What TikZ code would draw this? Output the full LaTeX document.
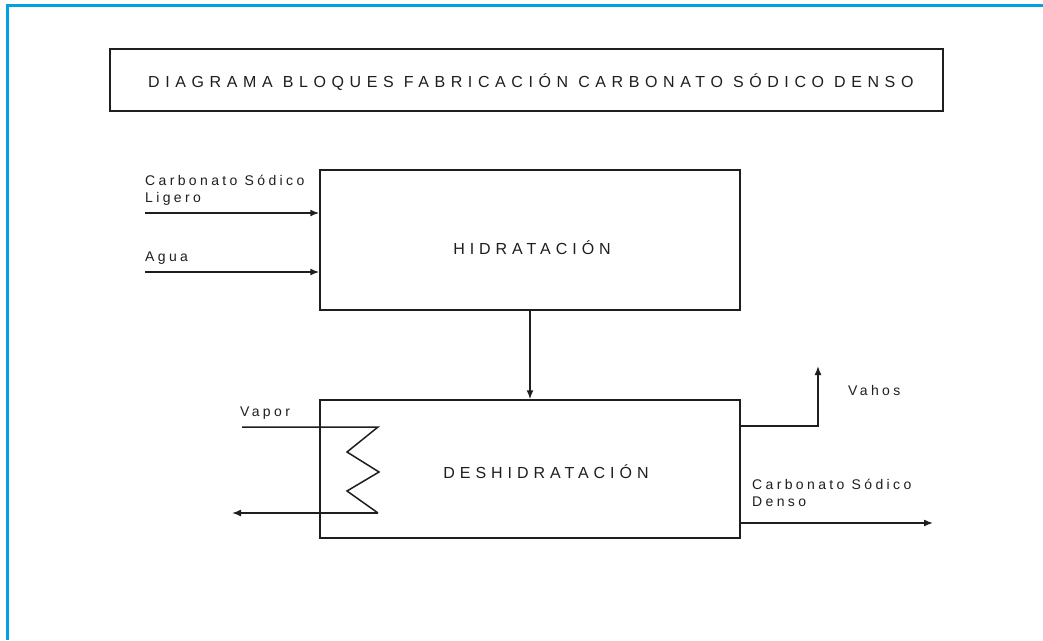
\documentclass[tikz,border=0pt]{standalone}
\usepackage{fontspec}
\setmainfont{Liberation Sans}
\newfontfamily\bigspaced[LetterSpace=35]{Liberation Sans}
\newfontfamily\boxspaced[LetterSpace=31]{Liberation Sans}
\newfontfamily\smallspaced[LetterSpace=24]{Liberation Sans}
\usetikzlibrary{arrows.meta}
\definecolor{frameblue}{RGB}{0,160,227}
\definecolor{ink}{RGB}{30,30,30}
\tikzset{
  blockbox/.style={draw=ink, line width=1.5pt, inner sep=0pt},
  flow/.style={draw=ink, line width=1.5pt},
  flowarrow/.style={flow, -{Latex[length=9pt,width=7pt]}},
  bigtext/.style={inner sep=0pt, text=ink, font=\bigspaced\fontsize{16}{19}\selectfont},
  boxtext/.style={inner sep=0pt, text=ink, font=\boxspaced\fontsize{16}{19}\selectfont},
  smalltext/.style={inner sep=0pt, text=ink, align=left, font=\smallspaced\fontsize{14}{17}\selectfont},
}
\begin{document}
\begin{tikzpicture}[x=1pt, y=-1pt]
\useasboundingbox (0,0) rectangle (1043,640);
\fill[white] (0,0) rectangle (1043,640);
% frame
\draw[frameblue, line width=3pt] (7.5,640) -- (7.5,5) -- (1043,5);
% title
\node[blockbox, minimum width=833pt, minimum height=62pt] (title) at (526.5,80) {};
\node[bigtext, anchor=west] (titletext) at (148,82) {DIAGRAMA BLOQUES FABRICACIÓN CARBONATO SÓDICO DENSO};
% blocks
\node[blockbox, minimum width=420pt, minimum height=140pt] (hid) at (530,240) {};
\node[boxtext] (hidtext) at (532,248) {HIDRATACIÓN};
\node[blockbox, minimum width=420pt, minimum height=138pt] (des) at (530,469) {};
\node[boxtext] (destext) at (546,472) {DESHIDRATACIÓN};
% inputs
\coordinate (in1) at (145,213);
\coordinate (in2) at (145,272);
\node[smalltext, anchor=west] (lbl1) at (145,190) {Carbonato Sódico\\Ligero};
\node[smalltext, anchor=west] (lbl2) at (145,258) {Agua};
\draw[flowarrow] (in1) -- (in1 -| hid.west);
\draw[flowarrow] (in2) -- (in2 -| hid.west);
% hid -> des
\draw[flowarrow] (hid.south) -- (des.north);
% steam coil
\coordinate (vin) at (242,427);
\coordinate (z1) at (378,427);
\coordinate (z2) at (347,452);
\coordinate (z3) at (379,472);
\coordinate (z4) at (347,491);
\coordinate (z5) at (378,513);
\coordinate (vout) at (232,513);
\node[smalltext, anchor=west] (lblvapor) at (240,413) {Vapor};
\draw[flow] (vin) -- (z1) -- (z2) -- (z3) -- (z4) -- (z5);
\draw[flowarrow] (z5) -- (vout);
% vahos
\coordinate (vah1) at (818,426);
\coordinate (vah2) at (818,366);
\node[smalltext, anchor=west] (lblvahos) at (848,390) {Vahos};
\draw[flowarrow] (vah1 -| des.east) -- (vah1) -- (vah2);
% product
\coordinate (prod) at (933,523);
\node[smalltext, anchor=west] (lblprod) at (752,493) {Carbonato Sódico\\Denso};
\draw[flowarrow] (prod -| des.east) -- (prod);
\end{tikzpicture}
\end{document}
